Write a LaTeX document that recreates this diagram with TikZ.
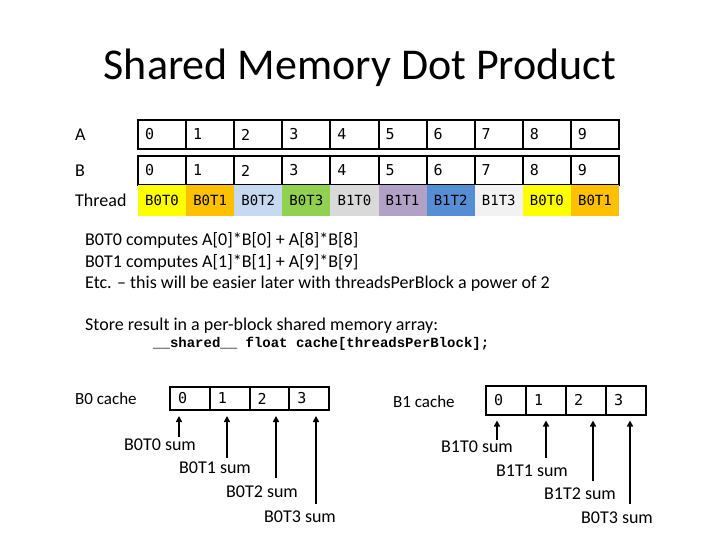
\documentclass[tikz,border=0pt]{standalone}
\usepackage{fontspec}
\setmainfont{Carlito}
\newfontfamily\monof{DejaVu Sans Mono}
\newfontfamily\codef{Liberation Mono}
\usetikzlibrary{arrows.meta}
\definecolor{cYel}{RGB}{255,255,0}
\definecolor{cOra}{RGB}{255,192,0}
\definecolor{cLbl}{RGB}{198,217,241}
\definecolor{cGrn}{RGB}{146,208,80}
\definecolor{cGry}{RGB}{217,217,217}
\definecolor{cLav}{RGB}{178,161,199}
\definecolor{cBlu}{RGB}{85,142,213}
\definecolor{cWht}{RGB}{242,242,242}
\tikzset{
  cell/.style={draw=black,line width=2pt,minimum height=29pt,inner xsep=7pt,inner ysep=0pt,
    text width=34.1pt,align=left,font=\monof\fontsize{15}{17}\selectfont},
  tcell/.style={minimum height=31pt,minimum width=48.1pt,inner sep=0pt,
    font=\monof\fontsize{14}{16}\selectfont},
  ccell/.style={draw=black,line width=2pt,inner xsep=8pt,inner ysep=0pt,align=left,
    font=\monof\fontsize{15}{17}\selectfont},
  rowlab/.style={anchor=west,font=\fontsize{18}{21}\selectfont,inner sep=0pt},
  body/.style={anchor=west,font=\fontsize{18}{21}\selectfont,inner sep=0pt},
  sumlab/.style={font=\fontsize{18}{21}\selectfont,inner sep=0pt},
  arr/.style={line width=1.6pt,-{Triangle[width=6pt,length=6pt]}}
}
\begin{document}
\begin{tikzpicture}[x=1pt,y=-1pt]
\useasboundingbox (0,0) rectangle (720,540);
\fill[white] (0,0) rectangle (720,540);
\node[font=\fontsize{44}{50}\selectfont] (title) at (360,68) {Shared Memory Dot Product};
% row labels
\node[rowlab] (la) at (75,134.5) {A};
\node[rowlab] (lb) at (75,170.5) {B};
\node[rowlab] (lt) at (75,200.5) {Thread};
% A and B rows
\foreach \i in {0,...,9}{
  \node[cell] (a\i) at ({138+48.1*(\i+0.5)},134.5) {\i};
  \node[cell] (b\i) at ({138+48.1*(\i+0.5)},170.5) {\i};
}
% thread row
\foreach \i/\t/\c in {0/B0T0/cYel,1/B0T1/cOra,2/B0T2/cLbl,3/B0T3/cGrn,4/B1T0/cGry,5/B1T1/cLav,6/B1T2/cBlu,7/B1T3/cWht,8/B0T0/cYel,9/B0T1/cOra}{
  \node[tcell,fill=\c] (t\i) at ({138+48.1*(\i+0.5)},200.5) {\t};
}
% body text
\node[body] (l1) at (85,240) {B0T0 computes A[0]*B[0] + A[8]*B[8]};
\node[body] (l2) at (85,262) {B0T1 computes A[1]*B[1] + A[9]*B[9]};
\node[body] (l3) at (85,284) {Etc. -- this will be easier later with threadsPerBlock a power of 2};
\node[body] (l4) at (85,326) {Store result in a per-block shared memory array:};
\node[anchor=west,inner sep=0pt,font=\codef\bfseries\fontsize{14}{16}\selectfont] (code) at (153,344) {\_\_shared\_\_ float cache[threadsPerBlock];};
% B0 cache
\node[rowlab,font=\fontsize{17}{20}\selectfont] (c0lab) at (75,399) {B0 cache};
\foreach \i in {0,...,3}{
  \node[ccell,minimum width=39.75pt,minimum height=23pt,text width=23.75pt] (bc\i) at ({170+39.75*(\i+0.5)},398.5) {\i};
}
\node[sumlab] (s0) at (160,445) {B0T0 sum};
\node[sumlab] (s1) at (215,468) {B0T1 sum};
\node[sumlab] (s2) at (262,492) {B0T2 sum};
\node[sumlab] (s3) at (300,517) {B0T3 sum};
\coordinate (p0) at (179,437);
\coordinate (p1) at (227,458);
\coordinate (p2) at (276,478);
\coordinate (p3) at (316,504);
\foreach \i in {0,...,3}{
  \draw[arr,shorten >=5pt] (p\i) -- (p\i |- bc\i.south);
}
% B1 cache
\node[rowlab,font=\fontsize{17}{20}\selectfont] (c1lab) at (393,402) {B1 cache};
\foreach \i in {0,...,3}{
  \node[ccell,minimum width=40pt,minimum height=29pt,text width=24pt] (cc\i) at ({486+40*(\i+0.5)},400) {\i};
}
\node[sumlab] (r0) at (477,447) {B1T0 sum};
\node[sumlab] (r1) at (532,471) {B1T1 sum};
\node[sumlab] (r2) at (580,494) {B1T2 sum};
\node[sumlab] (r3) at (617,518) {B0T3 sum};
\coordinate (q0) at (497,440);
\coordinate (q1) at (546,458);
\coordinate (q2) at (593,481);
\coordinate (q3) at (630,504);
\foreach \i in {0,...,3}{
  \draw[arr,shorten >=5pt] (q\i) -- (q\i |- cc\i.south);
}
\end{tikzpicture}
\end{document}
